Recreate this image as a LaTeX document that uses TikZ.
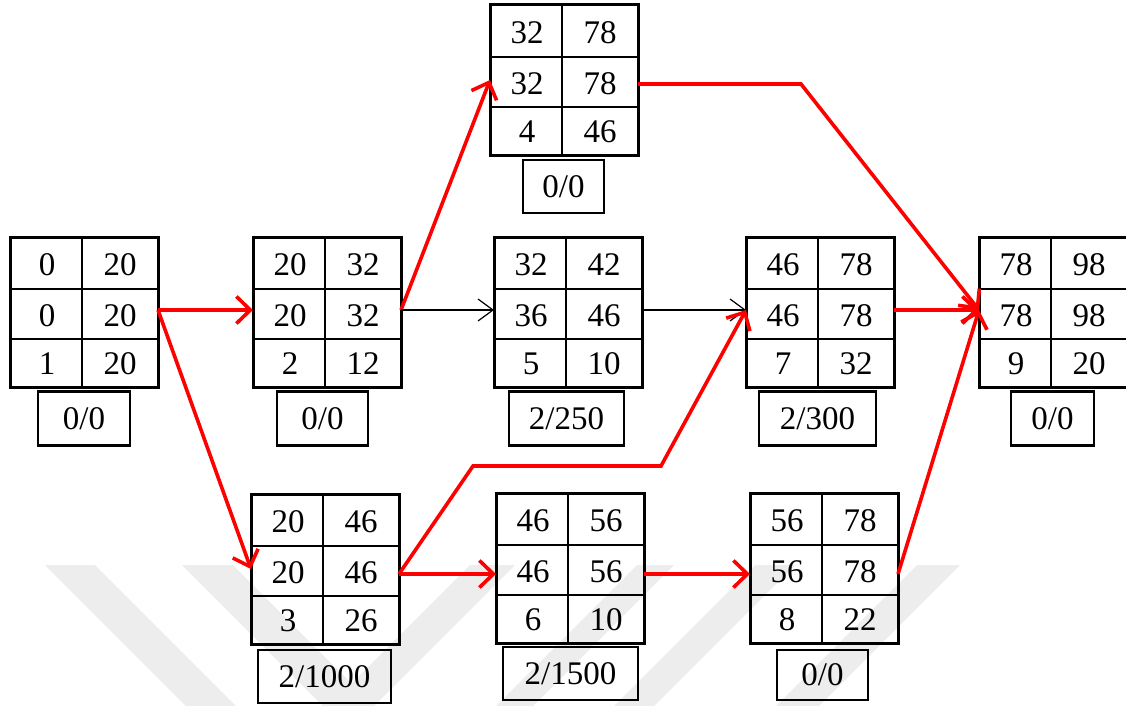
\documentclass[tikz,border=0pt]{standalone}
\usepackage{fontspec}
\setmainfont{Liberation Serif}
\usetikzlibrary{calc,arrows.meta}
\tikzset{
  actbox/.style={draw, line width=3pt, minimum width=148pt, minimum height=150pt, anchor=north west, inner sep=0pt, outer sep=0pt},
  cellline/.style={line width=2.4pt},
  celltxt/.style={font=\fontsize{33}{33}\selectfont, inner sep=0pt},
  lbl/.style={draw, line width=2.4pt, minimum height=54pt, inner sep=0pt, outer sep=0pt, font=\fontsize{33}{33}\selectfont},
  crit/.style={draw=red, line width=3.6pt, line join=miter, -{Straight Barb[length=14pt,width=27pt]}},
  noncrit/.style={draw=black, line width=1.2pt, -{Straight Barb[length=15pt,width=22pt]}},
  wm/.style={fill=black!7, draw=none},
}
\newcommand{\actgrid}[8]{%
  \node[actbox] (#1) at (#2) {};
  \draw[cellline] ($(#1.north west)+(72,0)$) -- ($(#1.south west)+(72,0)$);
  \draw[cellline] ($(#1.north west)+(0,52)$) -- ($(#1.north east)+(0,52)$);
  \draw[cellline] ($(#1.north west)+(0,102)$) -- ($(#1.north east)+(0,102)$);
  \node[celltxt] (#1a) at ($(#1.north west)+(37,28)$) {#3};
  \node[celltxt] (#1b) at ($(#1.north west)+(110,28)$) {#4};
  \node[celltxt] (#1c) at ($(#1.north west)+(37,79)$) {#5};
  \node[celltxt] (#1d) at ($(#1.north west)+(110,79)$) {#6};
  \node[celltxt] (#1e) at ($(#1.north west)+(37,127)$) {#7};
  \node[celltxt] (#1f) at ($(#1.north west)+(110,127)$) {#8};
}
\begin{document}
\begin{tikzpicture}[x=1pt,y=-1pt]
\useasboundingbox (0,0) rectangle (1126,706);
% watermark
\fill[wm] (45,565) -- (95,565) -- (236,706) -- (186,706) -- cycle;
\fill[wm] (182,565) -- (233,565) -- (374,706) -- (323,706) -- cycle;
\fill[wm] (470,565) -- (515,565) -- (374,706) -- (329,706) -- cycle;
\fill[wm] (637,565) -- (674,565) -- (533,706) -- (496,706) -- cycle;
\fill[wm] (755,565) -- (795,565) -- (654,706) -- (614,706) -- cycle;
\fill[wm] (917,565) -- (960,565) -- (819,706) -- (776,706) -- cycle;
% activity nodes
\actgrid{n1}{10,237}{0}{20}{0}{20}{1}{20}
\actgrid{n2}{253,237}{20}{32}{20}{32}{2}{12}
\actgrid{n4}{490,5}{32}{78}{32}{78}{4}{46}
\actgrid{n5}{494,237}{32}{42}{36}{46}{5}{10}
\actgrid{n7}{746,237}{46}{78}{46}{78}{7}{32}
\actgrid{n9}{979,237}{78}{98}{78}{98}{9}{20}
\actgrid{n3}{251,494}{20}{46}{20}{46}{3}{26}
\actgrid{n6}{496,493}{46}{56}{46}{56}{6}{10}
\actgrid{n8}{750,493}{56}{78}{56}{78}{8}{22}
% labels
\node[lbl, minimum width=92pt] (l1) at (84,418.5) {0/0};
\node[lbl, minimum width=91pt] (l2) at (322.5,418.5) {0/0};
\node[lbl, minimum width=81pt, minimum height=53pt] (l4) at (563.5,186.5) {0/0};
\node[lbl, minimum width=115pt] (l5) at (566.5,418.5) {2/250};
\node[lbl, minimum width=117pt] (l7) at (817.5,418.5) {2/300};
\node[lbl, minimum width=83pt] (l9) at (1052.5,418.5) {0/0};
\node[lbl, minimum width=133pt, minimum height=53pt] (l3) at (324.5,676.5) {2/1000};
\node[lbl, minimum width=135pt, minimum height=53pt] (l6) at (570.5,673.5) {2/1500};
\node[lbl, minimum width=91pt, minimum height=50pt] (l8) at (822.5,675) {0/0};
% connectors
\draw[crit] ($(n1.east)+(0,-2)$) -- ($(n2.west)+(0,-2)$);
\draw[crit] ($(n1.east)+(0,-2)$) -- (n3.west);
\draw[crit] ($(n2.east)+(0,-2)$) -- (n4.west);
\draw[noncrit] ($(n2.east)+(0,-2)$) -- ($(n5.west)+(0,-2)$);
\draw[noncrit] ($(n5.east)+(0,-2)$) -- ($(n7.west)+(0,-2)$);
\draw[crit] ($(n4.east)+(0,4)$) -- ++(163,0) -- ($(n9.west)+(0,-2)$);
\draw[crit] ($(n7.east)+(0,-2)$) -- ($(n9.west)+(0,-2)$);
\draw[crit] ($(n3.east)+(0,5)$) -- ++(74,-108) -- ++(188,0) -- ($(n7.west)+(0,-2)$);
\draw[crit] ($(n3.east)+(0,5)$) -- ($(n6.west)+(0,6)$);
\draw[crit] ($(n6.east)+(0,6)$) -- ($(n8.west)+(0,6)$);
\draw[crit] ($(n8.east)+(0,6)$) -- ($(n9.west)+(0,-2)$);
\end{tikzpicture}
\end{document}
